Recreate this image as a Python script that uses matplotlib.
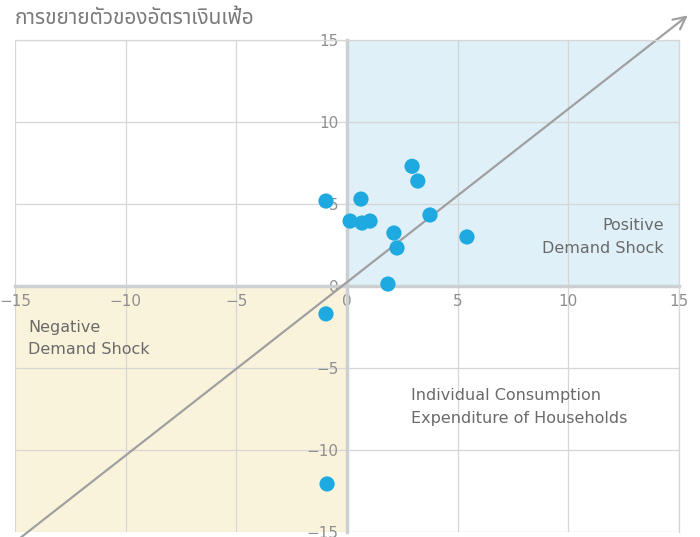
import matplotlib.pyplot as plt
from matplotlib.patches import Rectangle

# Points: x = consumption expenditure growth, y = inflation growth
x_vals = [-0.95, 0.63, 2.94, 3.2, 0.14, 0.68, 1.04, 3.75, 2.12, 2.26, 5.42, 1.85, -0.95, -0.9]
y_vals = [5.18, 5.3, 7.3, 6.4, 3.96, 3.84, 3.96, 4.33, 3.23, 2.32, 2.99, 0.12, -1.7, -12.07]
ticks = [-15, -10, -5, 0, 5, 10, 15]
title_text = "การขยายตัวของอัตราเงินเฟ้อ"

fig = plt.figure(figsize=(7, 5.37), dpi=100)
ax = fig.add_axes([15 / 700, 5 / 537, 664 / 700, 492 / 537])
ax.set_xlim(-15, 15)
ax.set_ylim(-15, 15)

# Quadrant shading
ax.add_patch(Rectangle((0, 0), 15, 15, facecolor="#dff0f8", edgecolor="none", zorder=0))
ax.add_patch(Rectangle((-15, -15), 15, 15, facecolor="#faf3dc", edgecolor="none", zorder=0))

ax.set_xticks(ticks)
ax.set_yticks(ticks)
ax.set_xticklabels([str(t).replace("-", "−") for t in ticks])
ax.set_yticklabels([str(t).replace("-", "−") for t in ticks])
ax.grid(True, color="#d6d6d6", linewidth=0.9, zorder=1)
ax.set_axisbelow(True)

for side in ["top", "right"]:
    ax.spines[side].set_color("#d6d6d6")
    ax.spines[side].set_linewidth(0.9)
ax.spines["left"].set_position(("data", 0))
ax.spines["bottom"].set_position(("data", 0))
for side in ["left", "bottom"]:
    ax.spines[side].set_color("#cdd0d3")
    ax.spines[side].set_linewidth(2.5)
    ax.spines[side].set_zorder(1.5)

ax.tick_params(length=0, labelsize=11, labelcolor="#8f8f8f")
ax.tick_params(axis="x", pad=6)
ax.tick_params(axis="y", pad=6)

# Diagonal arrow
ax.annotate("", xy=(15.4, 16.5), xytext=(-14.8, -15.4),
            arrowprops=dict(arrowstyle="->", color="#a0a0a0", lw=1.6,
                            mutation_scale=22, shrinkA=0, shrinkB=0),
            annotation_clip=False, zorder=2)

ax.scatter(x_vals, y_vals, s=120, color="#1ea9e1", edgecolors="none", zorder=3, clip_on=False)

ax.text(14.3, 3.0, "Positive\nDemand Shock", ha="right", va="center",
        fontsize=11.5, color="#6a6a6a", linespacing=1.65)
ax.text(-14.4, -3.2, "Negative\nDemand Shock", ha="left", va="center",
        fontsize=11.5, color="#6a6a6a", linespacing=1.65)
ax.text(2.9, -7.4, "Individual Consumption\nExpenditure of Households", ha="left", va="center",
        fontsize=11.5, color="#6a6a6a", linespacing=1.65)

fig.text(15 / 700, 1 - 18 / 537, title_text, ha="left", va="center", fontsize=15,
         color="#7a7a7a", family=["Noto Sans Thai", "Noto Sans", "DejaVu Sans"])

fig.savefig("out.png", dpi=100)
